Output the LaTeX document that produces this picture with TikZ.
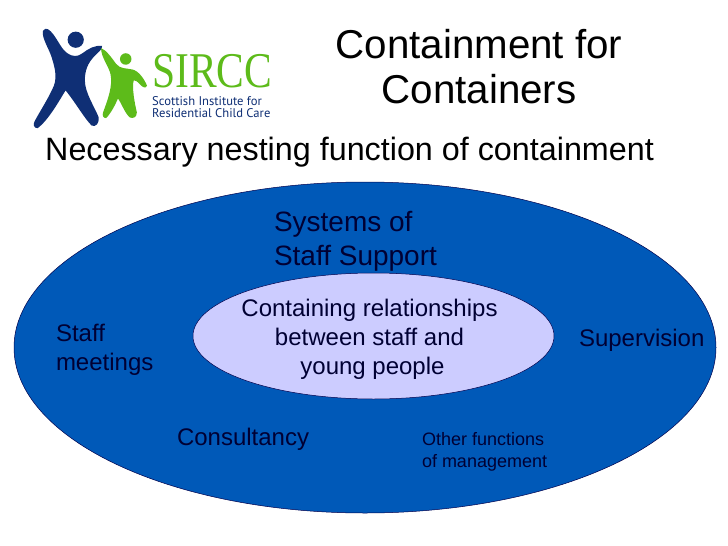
\documentclass[tikz,border=0pt]{standalone}
\usepackage{fontspec}
\usetikzlibrary{shapes.geometric}
\setmainfont{Liberation Sans}
\newfontfamily\logoserif[FakeStretch=0.83]{Liberation Serif}
\newfontfamily\logosans{PT Sans}
\definecolor{outerblue}{HTML}{0059B8}
\definecolor{innerlilac}{HTML}{CCCCFF}
\definecolor{navytext}{HTML}{000033}
\definecolor{logoblue}{HTML}{0F2F75}
\definecolor{logogreen}{HTML}{5DBB1A}
\tikzset{
  x=1pt,y=-1pt,
  label/.style={inner sep=0pt,outer sep=0pt,text=navytext},
  titletext/.style={inner sep=0pt,outer sep=0pt,text=black,align=center,font=\fontsize{40.3}{45}\selectfont},
  big/.style={label,align=left,font=\fontsize{28}{34}\selectfont},
  mid/.style={label,font=\fontsize{24}{28.8}\selectfont},
  small/.style={label,align=left,font=\fontsize{18}{22}\selectfont}
}
\begin{document}
\begin{tikzpicture}
\useasboundingbox (0,0) rectangle (728,546);
\fill[white] (0,0) rectangle (728,546);
% logo
\begin{scope}[shift={(20,10)},x=0.3378pt,y=-0.3378pt]
\fill[logoblue] (68,62) .. controls (76,48) and (88,58) .. (100,74)
 .. controls (115,95) and (125,118) .. (140,128)
 .. controls (155,138) and (170,140) .. (185,128)
 .. controls (203,114) and (222,104) .. (243,106)
 .. controls (244,118) and (232,124) .. (220,137)
 .. controls (200,158) and (192,180) .. (192,208)
 .. controls (192,245) and (220,285) .. (233,318)
 .. controls (235,335) and (224,348) .. (212,342)
 .. controls (190,320) and (165,275) .. (135,238)
 .. controls (115,270) and (85,325) .. (52,350)
 .. controls (40,350) and (38,338) .. (44,328)
 .. controls (62,295) and (85,260) .. (100,225)
 .. controls (112,195) and (100,160) .. (92,135)
 .. controls (84,112) and (64,82) .. (68,62) -- cycle;
\fill[logoblue] (165,88) circle[radius=24];
\fill[logogreen] (240,113) .. controls (255,118) and (270,140) .. (285,160)
 .. controls (297,175) and (315,172) .. (332,176)
 .. controls (352,180) and (368,205) .. (376,224)
 .. controls (372,234) and (362,228) .. (355,220)
 .. controls (348,212) and (342,208) .. (337,208)
 .. controls (330,225) and (340,280) .. (346,303)
 .. controls (346,318) and (335,322) .. (325,318)
 .. controls (310,305) and (300,275) .. (290,262)
 .. controls (282,280) and (270,305) .. (255,320)
 .. controls (246,320) and (243,312) .. (246,303)
 .. controls (260,265) and (275,225) .. (268,190)
 .. controls (262,165) and (240,140) .. (240,113) -- cycle;
\fill[logogreen] (313,145) circle[radius=17];
\end{scope}
\node[inner sep=0pt,anchor=base west,text=logogreen,font=\logoserif\fontsize{50}{50}\selectfont] (sircc) at (152,87) {SIRCC};
\node[inner sep=0pt,anchor=west,text=logoblue,align=left,font=\logosans\fontsize{12.6}{12}\selectfont] (sub) at (152,107) {Scottish Institute for\\Residential Child Care};
% title
\node[titletext] (title) at (479,67) {Containment for\\Containers};
\node[inner sep=0pt,anchor=base west,font=\fontsize{32.3}{38}\selectfont] (subtitle) at (45,160) {Necessary nesting function of containment};
% ellipses
\node[ellipse,draw=black!70!blue,line width=0.5pt,fill=outerblue,minimum width=702,minimum height=331,inner sep=0pt] (outer) at (365,347.5) {};
\node[ellipse,draw=black!70!blue,line width=0.5pt,fill=innerlilac,minimum width=361,minimum height=126,inner sep=0pt] (inner) at (373.5,336) {};
% labels
\node[big,anchor=west] (systems) at (274,241) {Systems of\\Staff Support};
\node[mid,align=center] (rel) at (369.5,339) {Containing relationships\\between staff and\\\hspace*{6pt}young people};
\node[mid,align=left,anchor=west] (staff) at (56,350) {Staff\\meetings};
\node[mid,anchor=base west] (sup) at (579,346) {Supervision};
\node[mid,anchor=base west] (cons) at (177,445) {Consultancy};
\node[small,anchor=west] (other) at (422,451.5) {Other functions\\of management};
\end{tikzpicture}
\end{document}
